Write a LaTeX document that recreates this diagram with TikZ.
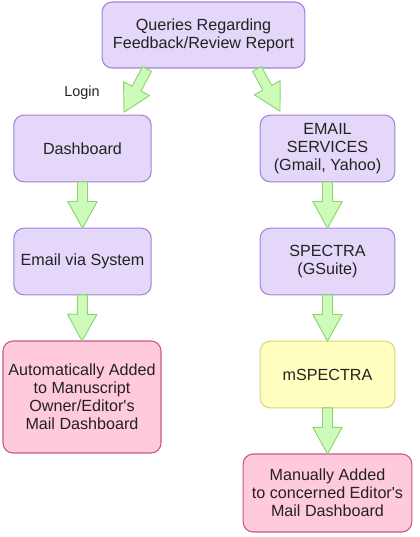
\documentclass[tikz,border=0pt]{standalone}
\usepackage{fontspec}
\setmainfont{Liberation Sans}[Ligatures=TeXOff]
\usetikzlibrary{positioning,calc}
\definecolor{boxpurple}{RGB}{228,215,250}
\definecolor{linepurple}{RGB}{160,132,214}
\definecolor{boxpink}{RGB}{255,202,222}
\definecolor{linepink}{RGB}{204,88,120}
\definecolor{boxyellow}{RGB}{255,255,192}
\definecolor{lineyellow}{RGB}{212,216,120}
\definecolor{arrowgreen}{RGB}{206,250,186}
\definecolor{linegreen}{RGB}{140,212,110}
\definecolor{textgray}{RGB}{34,34,34}

% fat block arrow from #1 to #2
\newcommand{\flowarrow}[2]{%
  \coordinate (fa-h) at ($(#2)!20pt!(#1)$);
  \draw[flow] ($(#1)!3.75pt!90:(#2)$)
    -- ($(fa-h)!3.75pt!-90:(#1)$)
    -- ($(fa-h)!11pt!-90:(#1)$)
    -- (#2)
    -- ($(fa-h)!11pt!90:(#1)$)
    -- ($(fa-h)!3.75pt!90:(#1)$)
    -- ($(#1)!3.75pt!-90:(#2)$) -- cycle;}

\begin{document}
\begin{tikzpicture}[
    x=0.75pt, y=-0.75pt,
    box/.style={
        rectangle,
        rounded corners=7.5pt,
        draw=linepurple,
        fill=boxpurple,
        line width=0.8pt,
        align=center,
        inner sep=0pt,
        outer sep=0pt,
        text=textgray,
        font=\fontsize{12.1}{13.6}\selectfont
    },
    endbox/.style={box, draw=linepink, fill=boxpink},
    appbox/.style={box, draw=lineyellow, fill=boxyellow},
    flow/.style={
        draw=linegreen,
        fill=arrowgreen,
        line width=0.7pt,
        line join=round
    }
]
\useasboundingbox (0,0) rectangle (419,537);

% Top
\node[box, minimum width=152pt, minimum height=49.5pt] (query) at (203.5,35)
    {Queries Regarding\\Feedback/Review Report};

% Left column
\node[box, minimum width=103pt, minimum height=50pt] (dash) at (82.5,148.5) {Dashboard};
\node[box, minimum width=103pt, minimum height=50pt] (sys) at (82.5,261.5) {Email via System};
\node[endbox, minimum width=118.5pt, minimum height=84pt] (auto) at (82,397)
    {Automatically Added\\to Manuscript\\Owner/Editor's\\Mail Dashboard};

% Right column
\node[box, minimum width=101pt, minimum height=50pt] (email) at (327.5,148.5)
    {EMAIL\\SERVICES\\(Gmail, Yahoo)};
\node[box, minimum width=101pt, minimum height=50pt] (spectra) at (327.5,261.5)
    {SPECTRA\\(GSuite)};
\node[appbox, minimum width=101pt, minimum height=50pt] (mspec) at (327.5,374.5) {mSPECTRA};
\node[endbox, minimum width=126.5pt, minimum height=58.5pt] (manual) at (327.5,493)
    {Manually Added\\to concerned Editor's\\Mail Dashboard};

% Ends of the slanted arrows
\coordinate (ql) at ($(query.south)+(-56.5,1)$);
\coordinate (dl) at ($(dash.north)+(41.5,-3)$);
\coordinate (qr) at ($(query.south)+(53.5,1)$);
\coordinate (er) at ($(email.north)+(-47.5,-4)$);

% Arrows
\flowarrow{ql}{dl}
\flowarrow{qr}{er}
\flowarrow{dash.south}{sys.north}
\flowarrow{sys.south}{auto.north}
\flowarrow{email.south}{spectra.north}
\flowarrow{spectra.south}{mspec.north}
\flowarrow{mspec.south}{manual.north}

\node[text=textgray, font=\fontsize{10.8}{12}\selectfont] (login) at (82,93) {Login};
\end{tikzpicture}
\end{document}
